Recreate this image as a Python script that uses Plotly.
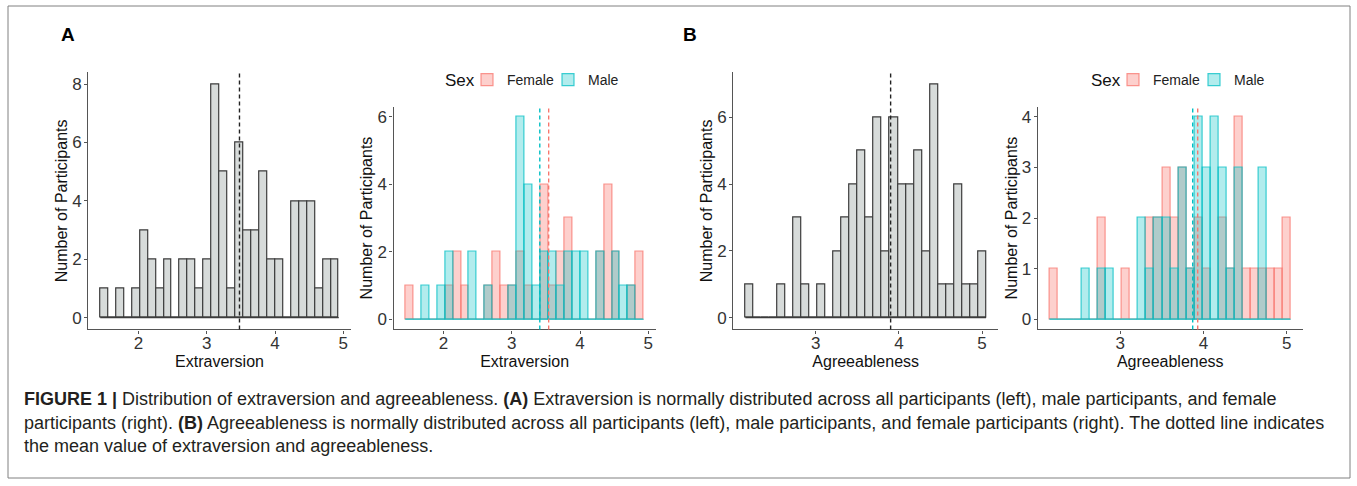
import plotly.graph_objects as go
import numpy as np

# ---------------- data ----------------
n_bins = 30
extra_min, extra_max = 1.5, 4.875
agree_min, agree_max = 2.2, 5.0

extra_all = [1, 0, 1, 0, 1, 3, 2, 1, 2, 0, 2, 2, 1, 2, 8, 5, 1, 6, 3, 3, 5, 2, 2, 0, 4, 4, 4, 1, 2, 2]
extra_female = [1, 0, 0, 0, 0, 1, 2, 1, 0, 0, 1, 2, 1, 1, 2, 1, 0, 4, 1, 2, 3, 0, 0, 0, 2, 4, 2, 0, 1, 2]
extra_male = [0, 0, 1, 0, 1, 2, 0, 0, 2, 0, 1, 0, 0, 1, 6, 4, 1, 2, 2, 1, 2, 2, 2, 0, 2, 0, 2, 1, 1, 0]

agree_all = [1, 0, 0, 0, 1, 0, 3, 1, 0, 1, 0, 2, 3, 4, 5, 3, 6, 2, 6, 4, 4, 5, 2, 7, 1, 1, 4, 1, 1, 2]
agree_female = [1, 0, 0, 0, 0, 0, 2, 0, 0, 1, 0, 0, 2, 2, 3, 2, 3, 1, 2, 1, 0, 2, 1, 4, 1, 1, 1, 1, 1, 2]
agree_male = [0, 0, 0, 0, 1, 0, 1, 1, 0, 0, 0, 2, 1, 2, 2, 1, 3, 1, 4, 3, 4, 3, 1, 3, 0, 0, 3, 0, 0, 0]

extra_mean = 3.48
extra_mean_sex = {"Female": 3.54, "Male": 3.41}
agree_mean = 3.90
agree_mean_sex = {"Female": 3.93, "Male": 3.87}

extra_xticks = [2, 3, 4, 5]
agree_xticks = [3, 4, 5]
yticks_p1 = [0, 2, 4, 6, 8]
yticks_p2 = [0, 2, 4, 6]
yticks_p3 = [0, 2, 4, 6]
yticks_p4 = [0, 1, 2, 3, 4]

caption_lines = [
    "<b>FIGURE 1 |</b> Distribution of extraversion and agreeableness. <b>(A)</b> Extraversion is normally distributed across all participants (left), male participants, and female",
    "participants (right). <b>(B)</b> Agreeableness is normally distributed across all participants (left), male participants, and female participants (right). The dotted line indicates",
    "the mean value of extraversion and agreeableness.",
]

# ---------------- styling ----------------
W, H = 1357, 486
FONT = "Liberation Sans, Arial, sans-serif"
GREY_FILL = "#D7DBDA"
GREY_LINE = "#3C3C3C"
FEM = "#F8766D"
MAL = "#00BFC4"
FEM_FILL = "rgba(248,118,109,0.34)"
MAL_FILL = "rgba(0,191,196,0.30)"
FEM_LINE = "rgba(248,118,109,0.75)"
MAL_LINE = "rgba(0,191,196,0.75)"
AXIS_COL = "#555555"


def bins(lo, hi, n):
    w = (hi - lo) / (n - 1)
    centers = lo + w * np.arange(n)
    edges = (lo - w / 2, hi + w / 2)
    span = edges[1] - edges[0]
    rng = [edges[0] - 0.05 * span, edges[1] + 0.05 * span]
    return centers, w, edges, rng


ex_c, ex_w, ex_e, ex_rng = bins(extra_min, extra_max, n_bins)
ag_c, ag_w, ag_e, ag_rng = bins(agree_min, agree_max, n_bins)

fig = go.Figure()


def baseline(edges, color, ax):
    fig.add_trace(go.Scatter(x=list(edges), y=[0, 0], mode="lines",
                             line=dict(color=color, width=1.2),
                             xaxis="x" + ax, yaxis="y" + ax, showlegend=False, hoverinfo="skip"))


def bar(centers, w, counts, fill, line, ax, name=None, legend=None):
    fig.add_trace(go.Bar(x=centers, y=counts, width=w, name=name,
                         marker=dict(color=fill, line=dict(color=line, width=1.2)),
                         xaxis="x" + ax, yaxis="y" + ax,
                         showlegend=name is not None, legend=legend))


# panel 1
baseline(ex_e, GREY_LINE, "")
bar(ex_c, ex_w, extra_all, GREY_FILL, GREY_LINE, "")
# panel 2
baseline(ex_e, MAL_LINE, "2")
bar(ex_c, ex_w, extra_female, FEM_FILL, FEM_LINE, "2", "Female", "legend")
bar(ex_c, ex_w, extra_male, MAL_FILL, MAL_LINE, "2", "Male", "legend")
# panel 3
baseline(ag_e, GREY_LINE, "3")
bar(ag_c, ag_w, agree_all, GREY_FILL, GREY_LINE, "3")
# panel 4
baseline(ag_e, MAL_LINE, "4")
bar(ag_c, ag_w, agree_female, FEM_FILL, FEM_LINE, "4", "Female", "legend2")
bar(ag_c, ag_w, agree_male, MAL_FILL, MAL_LINE, "4", "Male", "legend2")

shapes = []


def vline(x, color, ax):
    shapes.append(dict(type="line", x0=x, x1=x, xref="x" + ax, y0=0, y1=1,
                       yref=("y" + ax + " domain").strip(),
                       line=dict(color=color, width=1.4, dash="4px,3px")))


vline(extra_mean, "#222222", "")
vline(extra_mean_sex["Female"], FEM, "2")
vline(extra_mean_sex["Male"], MAL, "2")
vline(agree_mean, "#222222", "3")
vline(agree_mean_sex["Female"], FEM, "4")
vline(agree_mean_sex["Male"], MAL, "4")

# outer frame
shapes.append(dict(type="rect", xref="paper", yref="paper",
                   x0=8 / W, x1=1350 / W, y0=1 - 478 / H, y1=1 - 6 / H,
                   line=dict(color="#808080", width=1)))

ax_common = dict(showgrid=False, zeroline=False, showline=True, linecolor=AXIS_COL, linewidth=1.3,
                 ticks="outside", ticklen=3, tickcolor=AXIS_COL, tickwidth=1.2,
                 tickfont=dict(family=FONT, size=17, color="#333333"))


def xax(domain, rng, ticks, title, anchor):
    d = dict(ax_common)
    d.update(domain=domain, range=rng, tickvals=ticks, anchor=anchor, ticklabelstandoff=-5,
             title=dict(text=title, font=dict(family=FONT, size=16, color="#111111"), standoff=0))
    return d


def yax(domain, top, ticks, anchor):
    d = dict(ax_common)
    d.update(domain=domain, range=[-0.05 * top, top * 1.05], tickvals=ticks, anchor=anchor,
             ticklabelstandoff=-1,
             title=dict(text="Number of Participants", font=dict(family=FONT, size=16, color="#111111"),
                        standoff=0))
    return d


yd_tall = [1 - 329.4 / H, 1 - 72.4 / H]
yd_short = [1 - 329.4 / H, 1 - 106.6 / H]

legend_style = dict(orientation="h", y=1 - 80 / H, xanchor="left", yanchor="middle",
                    font=dict(family=FONT, size=14, color="#222222"), bgcolor="rgba(0,0,0,0)",
                    itemwidth=30, entrywidth=36)

fig.update_layout(
    width=W, height=H,
    margin=dict(l=0, r=0, t=0, b=0),
    paper_bgcolor="white", plot_bgcolor="white",
    barmode="overlay", bargap=0,
    font=dict(family=FONT, color="#222222"),
    xaxis=xax([88.3 / W, 350.7 / W], ex_rng, extra_xticks, "Extraversion", "y"),
    yaxis=yax(yd_tall, max(extra_all), yticks_p1, "x"),
    xaxis2=xax([393.5 / W, 655.7 / W], ex_rng, extra_xticks, "Extraversion", "y2"),
    yaxis2=yax(yd_short, max(max(extra_female), max(extra_male)), yticks_p2, "x2"),
    xaxis3=xax([733.3 / W, 998.1 / W], ag_rng, agree_xticks, "Agreeableness", "y3"),
    yaxis3=yax(yd_tall, max(agree_all), yticks_p3, "x3"),
    xaxis4=xax([1037.7 / W, 1302.8 / W], ag_rng, agree_xticks, "Agreeableness", "y4"),
    yaxis4=yax(yd_short, max(max(agree_female), max(agree_male)), yticks_p4, "x4"),
    legend=dict(legend_style, x=467 / W),
    legend2=dict(legend_style, x=1113 / W),
    shapes=shapes,
)

annotations = [
    dict(text="<b>A</b>", x=68 / W, y=1 - 35 / H, xref="paper", yref="paper", showarrow=False,
         font=dict(family=FONT, size=19, color="#000000"), xanchor="center", yanchor="middle"),
    dict(text="<b>B</b>", x=690 / W, y=1 - 35 / H, xref="paper", yref="paper", showarrow=False,
         font=dict(family=FONT, size=19, color="#000000"), xanchor="center", yanchor="middle"),
    dict(text="Sex", x=443 / W, y=1 - 80 / H, xref="paper", yref="paper", showarrow=False,
         font=dict(family=FONT, size=17, color="#111111"), xanchor="left", yanchor="middle"),
    dict(text="Sex", x=1089 / W, y=1 - 80 / H, xref="paper", yref="paper", showarrow=False,
         font=dict(family=FONT, size=17, color="#111111"), xanchor="left", yanchor="middle"),
]
for i, (line, yc) in enumerate(zip(caption_lines, [399, 423, 446])):
    annotations.append(dict(text=line, x=22 / W, y=1 - yc / H, xref="paper", yref="paper",
                            showarrow=False, xanchor="left", yanchor="middle", align="left",
                            font=dict(family=FONT, size=18, color="#231F20")))
fig.update_layout(annotations=annotations)

fig.write_html("out.html", config={"displayModeBar": False},
               post_script="document.body.style.margin='0px';")
